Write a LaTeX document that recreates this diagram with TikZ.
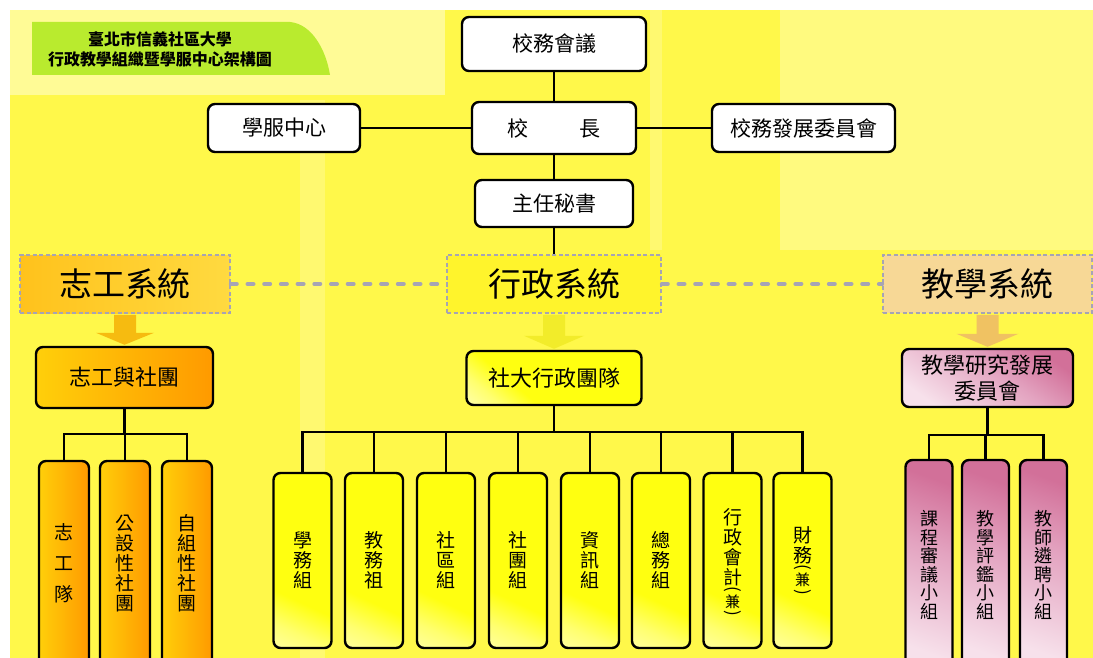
\documentclass[tikz,border=0pt]{standalone}
\usepackage{fontspec}
\setmainfont{Noto Sans CJK TC}
\usetikzlibrary{calc}
\definecolor{bgY}{HTML}{FFF84A}
\definecolor{paleY}{HTML}{FFFB96}
\definecolor{titleG}{HTML}{B9EB2E}
\definecolor{dashG}{HTML}{A6A4B4}
\definecolor{sysZa}{HTML}{FFC21C}
\definecolor{sysZb}{HTML}{FFDA40}
\definecolor{sysX}{HTML}{FFF42C}
\definecolor{sysJ}{HTML}{F7D896}
\definecolor{arrZ}{HTML}{F6BB10}
\definecolor{arrX}{HTML}{F2EC2A}
\definecolor{arrJ}{HTML}{F0C262}
\definecolor{Yc}{HTML}{FFFF10}
\definecolor{oL}{HTML}{FFCF0A}
\definecolor{oD}{HTML}{FF9A00}
\definecolor{pkL}{HTML}{F7E1EB}
\definecolor{pkM}{HTML}{E3A3C0}
\definecolor{pkD}{HTML}{D27099}
\pgfdeclareverticalshading{yfade}{100bp}{color(0bp)=(white); color(25bp)=(white!40!Yc); color(36bp)=(Yc); color(100bp)=(Yc)}
\pgfdeclareverticalshading{pfade}{100bp}{color(0bp)=(pkL); color(25bp)=(pkL); color(55bp)=(pkM); color(75bp)=(pkD); color(100bp)=(pkD)}
\pgfdeclarehorizontalshading{ofade}{100bp}{color(0bp)=(oL); color(25bp)=(oL); color(75bp)=(oD); color(100bp)=(oD)}
\newcommand\blockarrow[6]{%
  \fill[#1] ($(#2.south)+(-#4,1)$) -- ($(#2.south)+(#4,1)$) -- ($(#2.south)+(#4,#6)$)
    -- ($(#2.south)+(#5,#6)$) -- ($(#3.north)+(0,-1)$) -- ($(#2.south)+(-#5,#6)$)
    -- ($(#2.south)+(-#4,#6)$) -- cycle;}
\begin{document}
\begin{tikzpicture}[x=1pt,y=-1pt,
  box/.style={draw=black, line width=2.4pt, rounded corners=7pt, inner sep=0pt, align=center},
  wbox/.style={box, fill=white, font=\fontsize{21}{23}\selectfont},
  sysbox/.style={draw=dashG, dash pattern=on 4pt off 2.5pt, line width=1.6pt, inner sep=0pt,
    minimum height=58pt, font=\fontsize{33}{35}\selectfont},
  ybox/.style={box, shade, shading=yfade, shading angle=-25, font=\fontsize{19}{20}\selectfont},
  obox/.style={box, shade, shading=ofade, font=\fontsize{19}{20}\selectfont},
  pbox/.style={box, shade, shading=pfade, shading angle=-20, font=\fontsize{18}{18.5}\selectfont},
  vtext/.style={inner sep=0pt, align=center, font=\fontsize{19}{20}\selectfont},
  paren/.style={inner sep=0pt, rotate=-90, font=\fontsize{17}{17}\selectfont},
  jian/.style={inner sep=0pt, font=\fontsize{15}{15}\selectfont},
  link/.style={draw=black, line width=2.5pt},
  sysline/.style={draw=dashG, line width=4pt, dash pattern=on 6pt off 10.7pt, line cap=round},
]
\useasboundingbox (0,0) rectangle (1093,658);
\clip (0,0) rectangle (1093,658);
% background
\fill[white] (0,0) rectangle (1093,658);
\fill[bgY] (10,10) rectangle (1093,658);
\fill[paleY] (10,10) rectangle (445,95);
\fill[paleY!70!bgY] (780,10) rectangle (1093,250);
\fill[paleY!50!bgY] (300,100) rectangle (325,658);
\fill[paleY!50!bgY] (650,10) rectangle (662,250);
% title
\fill[titleG] (32,22) -- (290,22) .. controls (312,24) and (326,50) .. (330,75) -- (32,75) -- cycle;
\node[font=\bfseries\fontsize{16}{20}\selectfont, align=center] (title) at (160,49)
  {臺北市信義社區大學\\行政教學組織暨學服中心架構圖};
% top boxes
\node[wbox, minimum width=184pt, minimum height=54pt] (hy) at (554,44) {校務會議};
\node[wbox, minimum width=164pt, minimum height=52pt] (xz) at (554,128) {校\hspace{2.4em}長};
\node[wbox, minimum width=152pt, minimum height=48pt] (xf) at (284,128) {學服中心};
\node[wbox, minimum width=183pt, minimum height=48pt] (fz) at (803.5,128) {校務發展委員會};
\node[wbox, minimum width=158pt, minimum height=47pt] (zm) at (554,203.5) {主任秘書};
% system boxes
\node[sysbox, minimum width=210pt, left color=sysZa, right color=sysZb] (zg) at (125,284) {志工系統};
\node[sysbox, minimum width=214pt, fill=sysX] (xzxt) at (554,284) {行政系統};
\node[sysbox, minimum width=209pt, fill=sysJ] (jx) at (987.5,284) {教學系統};
% second level
\node[box, shade, left color=oL, right color=oD, minimum width=177pt, minimum height=61pt,
  font=\fontsize{22}{24}\selectfont] (zs) at (124.5,377.5) {志工與社團};
\node[box, shade, shading=yfade, shading angle=-40, minimum width=175pt, minimum height=54pt,
  font=\fontsize{22}{24}\selectfont] (st) at (554,378) {社大行政團隊};
\node[box, shade, shading=pfade, shading angle=-35, minimum width=171pt, minimum height=58pt,
  font=\fontsize{22}{26}\selectfont] (jy) at (987.5,378) {教學研究發展\\委員會};
% orange leaves
\node[obox, minimum width=50pt, minimum height=205pt] (o1) at (64,563.5) {志\\[11pt]工\\[11pt]隊};
\node[obox, minimum width=50pt, minimum height=205pt] (o2) at (125,563.5) {公\\設\\性\\社\\團};
\node[obox, minimum width=50pt, minimum height=205pt] (o3) at (187,563.5) {自\\組\\性\\社\\團};
% yellow leaves
\node[ybox, minimum width=58pt, minimum height=175pt] (y1) at (302.5,560.5) {學\\務\\組};
\node[ybox, minimum width=58pt, minimum height=175pt] (y2) at (374,560.5) {教\\務\\祖};
\node[ybox, minimum width=58pt, minimum height=175pt] (y3) at (446,560.5) {社\\區\\組};
\node[ybox, minimum width=58pt, minimum height=175pt] (y4) at (518,560.5) {社\\團\\組};
\node[ybox, minimum width=58pt, minimum height=175pt] (y5) at (590,560.5) {資\\訊\\組};
\node[ybox, minimum width=58pt, minimum height=175pt] (y6) at (661,560.5) {總\\務\\組};
\node[ybox, minimum width=58pt, minimum height=175pt] (y7) at (732.5,560.5) {};
\node[ybox, minimum width=58pt, minimum height=175pt] (y8) at (802.5,560.5) {};
\node[vtext] (y7a) at ($(y7.center)+(0,-13)$) {行\\政\\會\\計};
\node[paren] (y7b) at ($(y7.center)+(0,29)$) {(};
\node[jian] (y7c) at ($(y7.center)+(0,41)$) {兼};
\node[paren] (y7d) at ($(y7.center)+(0,53)$) {)};
\node[vtext] (y8a) at ($(y8.center)+(0,-15)$) {財\\務};
\node[paren] (y8b) at ($(y8.center)+(0,7)$) {(};
\node[jian] (y8c) at ($(y8.center)+(0,19.5)$) {兼};
\node[paren] (y8d) at ($(y8.center)+(0,32)$) {)};
% pink leaves
\node[pbox, minimum width=47pt, minimum height=210pt] (p1) at (929,565) {課\\程\\審\\議\\小\\組};
\node[pbox, minimum width=47pt, minimum height=210pt] (p2) at (985.5,565) {教\\學\\評\\鑑\\小\\組};
\node[pbox, minimum width=47pt, minimum height=210pt] (p3) at (1043.5,565) {教\\師\\遴\\聘\\小\\組};
% connectors
\draw[link] (hy.south) -- (xz.north);
\draw[link] (xz.south) -- (zm.north);
\draw[link] (zm.south) -- (xzxt.north);
\draw[link] (xf.east) -- (xz.west);
\draw[link] (xz.east) -- (fz.west);
\draw[sysline] (zg.east) -- (xzxt.west);
\draw[sysline] (xzxt.east) -- (jx.west);
\blockarrow{arrZ}{zg}{zs}{11}{29}{19}
\blockarrow{arrX}{xzxt}{st}{11}{30}{22}
\blockarrow{arrJ}{jx}{jy}{11}{31}{20}
\foreach \c in {o1,o2,o3} \draw[link] (\c.north) -- ++(0,-26) -| (zs.south);
\foreach \c in {y1,y2,y3,y4,y5,y6,y7,y8} \draw[link] (\c.north) -- ++(0,-40) -| (st.south);
\foreach \c in {p1,p2,p3} \draw[link] (\c.north) -- ++(0,-24) -| (jy.south);
\end{tikzpicture}
\end{document}
